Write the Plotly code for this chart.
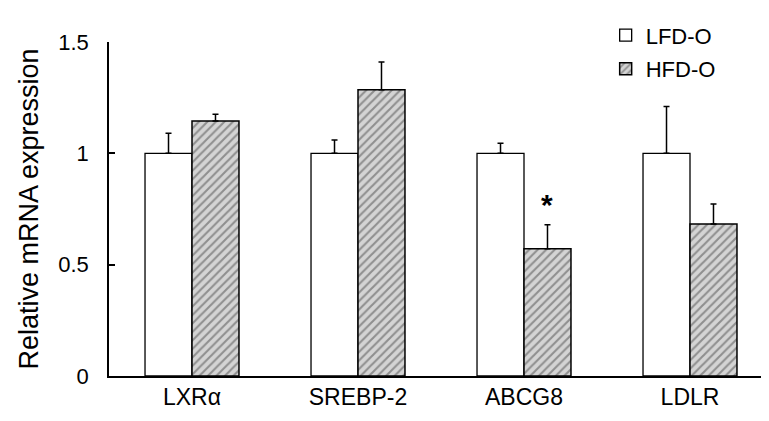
import plotly.graph_objects as go

# Data
genes = ['LXRα', 'SREBP-2', 'ABCG8', 'LDLR']
lfd_mean = [1.0, 1.0, 1.0, 1.0]
lfd_err = [0.09, 0.06, 0.045, 0.21]
hfd_mean = [1.145, 1.285, 0.572, 0.683]
hfd_err = [0.03, 0.125, 0.107, 0.09]
sig_marks = ['', '', '*', '']

FONT = 'Arial, "Liberation Sans", sans-serif'

fig = go.Figure()

fig.add_trace(go.Bar(
    x=genes, y=lfd_mean, name='LFD-O',
    marker=dict(color='white', line=dict(color='black', width=1.3)),
    error_y=dict(type='data', array=lfd_err, arrayminus=[0] * 4, symmetric=False,
                 color='black', thickness=1.5, width=3),
    legendgroup='a',
))
fig.add_trace(go.Bar(
    x=genes, y=hfd_mean, name='HFD-O',
    marker=dict(color='#d4d4d4', line=dict(color='black', width=1.5),
                pattern=dict(shape='/', fgcolor='#4a4a4a', bgcolor='#d4d4d4',
                             size=6, solidity=0.35)),
    error_y=dict(type='data', array=hfd_err, arrayminus=[0] * 4, symmetric=False,
                 color='black', thickness=1.5, width=3),
    legendgroup='b',
))

# significance marks above the HFD error bars
for g, m, e, s in zip(genes, hfd_mean, hfd_err, sig_marks):
    if s:
        fig.add_annotation(x=g, y=m + e, text='<b>' + s + '</b>', showarrow=False,
                           xshift=23, yshift=2, yanchor='bottom',
                           font=dict(family=FONT, size=30, color='black'))

fig.update_layout(
    width=769, height=421,
    margin=dict(l=101, r=4, t=34, b=53, autoexpand=False),
    paper_bgcolor='white', plot_bgcolor='white',
    barmode='group', bargap=0.434, bargroupgap=0,
    font=dict(family=FONT, color='black', size=22),
    legend=dict(x=0.748, y=0.985, yref='container', xanchor='left', yanchor='top',
                font=dict(size=22), traceorder='grouped', tracegroupgap=2,
                bgcolor='rgba(0,0,0,0)'),
)
fig.update_xaxes(showline=True, linecolor='black', linewidth=1.5, ticks='',
                 tickfont=dict(size=23), showgrid=False, automargin=False)
fig.update_yaxes(range=[0, 1.5], tickvals=[0, 0.5, 1, 1.5],
                 ticktext=['0', '0.5', '1', '1.5'],
                 showline=True, linecolor='black', linewidth=1.5,
                 ticks='inside', ticklen=6, tickwidth=1.5, tickcolor='black',
                 ticklabelstandoff=14, showgrid=False, zeroline=False,
                 tickfont=dict(size=22), automargin=False,
                 title=dict(text='Relative mRNA expression', font=dict(size=27),
                            standoff=12))

fig.write_html('out.html')
